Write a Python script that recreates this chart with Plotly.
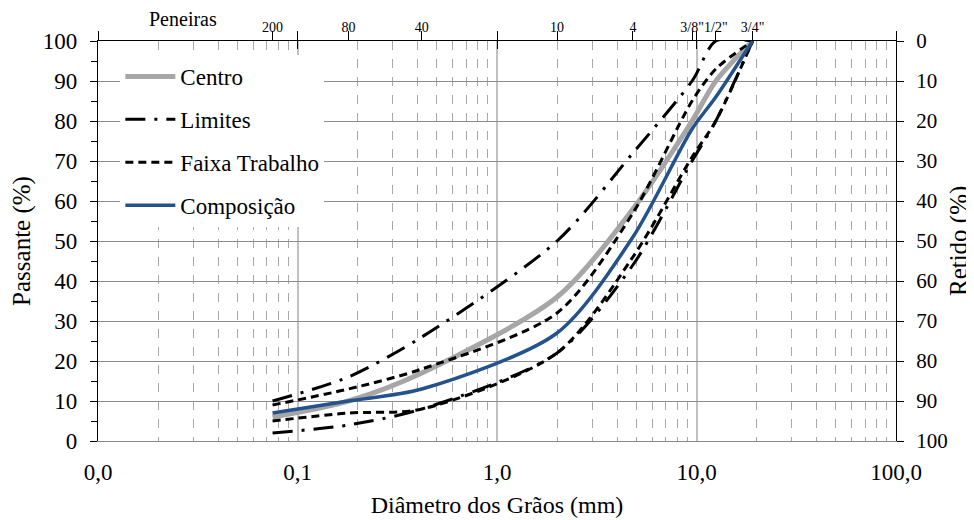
import plotly.graph_objects as go

# Sieve sizes (mm) and labels
sieve_mm = [0.075, 0.18, 0.42, 2.0, 4.8, 9.5, 12.5, 19.1]
sieve_labels = ["200", "80", "40", "10", "4", "3/8\"", "1/2\"", "3/4\""]

# Series (% passante) at each sieve
centro = [6, 10, 17, 36, 58, 80, 90, 100]
limite_sup = [10, 16, 26, 50, 72, 90, 100, 100]
limite_inf = [2, 4, 8, 22, 44, 70, 80, 100]
faixa_sup = [9, 13, 18, 32, 57, 85, 93, 100]
faixa_inf = [5, 7, 8, 22, 46, 71, 80, 100]
composicao = [7, 10, 13, 27, 51, 78, 86, 100]

# Bottom axis ticks
dec_vals = [0.01, 0.1, 1, 10, 100]
dec_text = ["0,0", "0,1", "1,0", "10,0", "100,0"]
# Right axis ticks
retido_ticks = list(range(0, 101, 10))

FONT = "Liberation Serif, Times New Roman, Times, serif"
minor_vals = [m * 10 ** k for k in range(-2, 2) for m in range(2, 10)]

fig = go.Figure()
fig.add_trace(go.Scatter(x=sieve_mm, y=centro, name="Centro", mode="lines",
                         line=dict(color="#A6A6A6", width=5, shape="spline", smoothing=0.8),
                         legendgroup="c"))
fig.add_trace(go.Scatter(x=sieve_mm, y=limite_sup, name="Limites", mode="lines",
                         line=dict(color="black", width=3, shape="spline", smoothing=0.8,
                                   dash="20px,9px,3px,9px"),
                         legendgroup="l"))
fig.add_trace(go.Scatter(x=sieve_mm, y=limite_inf, name="Limites", mode="lines",
                         line=dict(color="black", width=3, shape="spline", smoothing=0.8,
                                   dash="20px,9px,3px,9px"),
                         legendgroup="l", showlegend=False))
fig.add_trace(go.Scatter(x=sieve_mm, y=faixa_sup, name="Faixa Trabalho", mode="lines",
                         line=dict(color="black", width=3, shape="spline", smoothing=0.8,
                                   dash="8px,5px"),
                         legendgroup="f"))
fig.add_trace(go.Scatter(x=sieve_mm, y=faixa_inf, name="Faixa Trabalho", mode="lines",
                         line=dict(color="black", width=3, shape="spline", smoothing=0.8,
                                   dash="8px,5px"),
                         legendgroup="f", showlegend=False))
fig.add_trace(go.Scatter(x=sieve_mm, y=composicao, name="Composição", mode="lines",
                         line=dict(color="#24528C", width=3.5, shape="spline", smoothing=0.8),
                         legendgroup="p"))
# invisible traces to carry the secondary axes
fig.add_trace(go.Scatter(x=sieve_mm, y=[None] * len(sieve_mm), xaxis="x2", yaxis="y2",
                         mode="lines", showlegend=False, hoverinfo="skip"))
fig.add_trace(go.Scatter(x=dec_vals, y=[None] * len(dec_vals), xaxis="x3", yaxis="y",
                         mode="lines", showlegend=False, hoverinfo="skip"))
fig.add_trace(go.Scatter(x=sieve_mm, y=[None] * len(sieve_mm), xaxis="x4", yaxis="y",
                         mode="lines", showlegend=False, hoverinfo="skip"))

fig.update_layout(
    width=974, height=520,
    margin=dict(l=90, r=86, t=33, b=87, autoexpand=False),
    paper_bgcolor="white", plot_bgcolor="white",
    font=dict(family=FONT, size=20, color="black"),
    xaxis=dict(type="log", range=[-2, 2], tickvals=dec_vals, ticktext=dec_text,
               ticks="", showline=True, linecolor="#888888", linewidth=1,
               showgrid=True, gridcolor="#C0C0C0", gridwidth=1.5, zeroline=False,
               tickfont=dict(size=23), ticklabelstandoff=10, automargin=False,
               title=dict(text="Diâmetro dos Grãos (mm)", font=dict(size=24), standoff=12),
               minor=dict(tickmode="array", tickvals=minor_vals, showgrid=True,
                          gridcolor="#A8A8A8", griddash="dash", gridwidth=1, ticks="")),
    # sieve tick marks (no labels)
    xaxis2=dict(type="log", range=[-2, 2], overlaying="x", side="top", anchor="y",
                tickmode="array", tickvals=sieve_mm + dec_vals,
                ticktext=[""] * (len(sieve_mm) + len(dec_vals)),
                ticks="outside", ticklen=9, tickcolor="black", tickwidth=1.3,
                showline=True, linecolor="black", linewidth=1.3, showgrid=False,
                zeroline=False, automargin=False),
    # decade ticks pointing inside
    xaxis3=dict(type="log", range=[-2, 2], overlaying="x", side="top", anchor="y",
                tickmode="array", tickvals=dec_vals, ticktext=[""] * len(dec_vals),
                ticks="inside", ticklen=8, tickcolor="black", tickwidth=1.3,
                showline=False, showgrid=False, zeroline=False, automargin=False),
    # sieve labels, sitting just above the tick marks
    xaxis4=dict(type="log", range=[-2, 2], overlaying="x", side="top", anchor="y",
                tickmode="array", tickvals=sieve_mm, ticktext=sieve_labels, tickangle=0,
                ticks="", showline=False, showgrid=False, zeroline=False,
                tickfont=dict(size=14), ticklabelstandoff=5, automargin=False),
    yaxis=dict(range=[0, 100], dtick=10, ticks="outside", ticklen=7, tickcolor="black",
               showline=True, linecolor="black", linewidth=1.3, showgrid=True,
               gridcolor="#8C8C8C", gridwidth=1, zeroline=False, automargin=False,
               tickfont=dict(size=23), ticklabelstandoff=8,
               title=dict(text="Passante (%)", font=dict(size=25), standoff=6),
               minor=dict(dtick=5, ticks="outside", ticklen=6, tickcolor="black", showgrid=False)),
    yaxis2=dict(range=[100, 0], overlaying="y", side="right", anchor="x",
                tickmode="array", tickvals=retido_ticks,
                ticks="outside", ticklen=7, tickcolor="black", automargin=False,
                showline=True, linecolor="black", linewidth=1.3, showgrid=False,
                zeroline=False, tickfont=dict(size=21), ticklabelstandoff=8),
    legend=dict(x=0.028, y=0.965, xanchor="left", yanchor="top",
                bgcolor="white", borderwidth=0, font=dict(size=23, family=FONT),
                tracegroupgap=10, traceorder="grouped", itemwidth=50),
    showlegend=True,
    annotations=[
        dict(text="Peneiras", xref="paper", yref="paper", x=0.107, y=1.0,
             yshift=9, xanchor="center", yanchor="bottom", showarrow=False,
             font=dict(size=20, family=FONT)),
        dict(text="Retido (%)", xref="paper", yref="paper", x=1.0790, y=0.5,
             xanchor="center", yanchor="middle", textangle=-90, showarrow=False,
             font=dict(size=25, family=FONT)),
    ],
)

fig.write_html("out.html")
